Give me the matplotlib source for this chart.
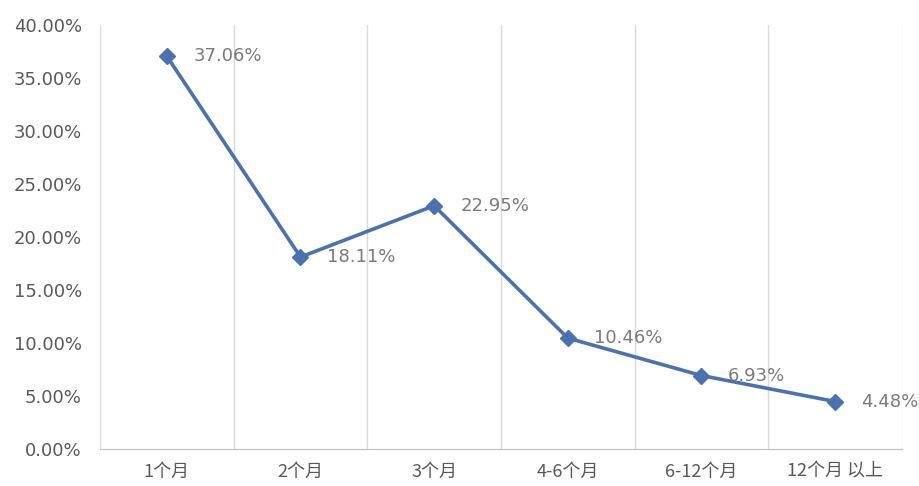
import matplotlib.pyplot as plt
from matplotlib.ticker import FuncFormatter, MultipleLocator

plt.rcParams['font.family'] = ['DejaVu Sans', 'Noto Sans CJK SC']

categories = ['1个月', '2个月', '3个月', '4-6个月', '6-12个月', '12个月 以上']
values = [37.06, 18.11, 22.95, 10.46, 6.93, 4.48]
labels = ['37.06%', '18.11%', '22.95%', '10.46%', '6.93%', '4.48%']

fig = plt.figure(figsize=(9.19, 4.86), dpi=100)
ax = fig.add_axes([0.1088, 0.0761, 0.8727, 0.8725])

x = list(range(len(categories)))
ax.plot(x, values, color='#4a72b0', linewidth=2.6, marker='D', markersize=8,
        markerfacecolor='#4a72b0', markeredgecolor='#4a72b0', zorder=3)

for xi, v, t in zip(x, values, labels):
    ax.annotate(t, (xi, v), xytext=(19, 0), textcoords='offset points',
                ha='left', va='center', fontsize=13, color='#7a7a7a', zorder=4)

ax.set_xlim(-0.5, len(categories) - 0.5)
ax.set_ylim(0, 40)
ax.yaxis.set_major_locator(MultipleLocator(5))
ax.yaxis.set_major_formatter(FuncFormatter(lambda v, p: f'{v:.2f}%'))
ax.set_xticks(x)
ax.set_xticklabels(categories, family=['Noto Sans CJK SC', 'DejaVu Sans'])

# vertical gridlines at category boundaries
for b in [i - 0.5 for i in range(len(categories) + 1)]:
    ax.axvline(b, color='#d9d9d9', linewidth=1, zorder=1)

for s in ['top', 'right', 'left']:
    ax.spines[s].set_visible(False)
ax.spines['bottom'].set_color('#bfbfbf')
ax.tick_params(axis='both', length=0, colors='#595959')
ax.tick_params(axis='x', pad=10, labelsize=13)
ax.tick_params(axis='y', pad=13, labelsize=13)

fig.savefig('out.png', dpi=100)
